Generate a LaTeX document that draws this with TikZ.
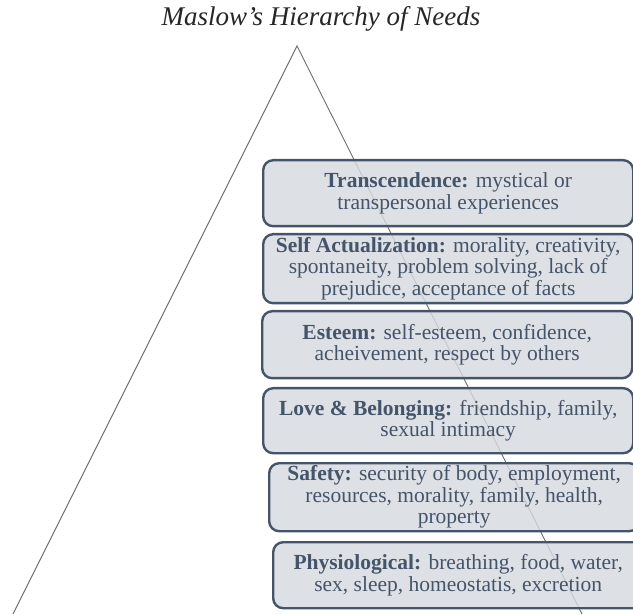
\documentclass[tikz,border=0pt]{standalone}
\usepackage{fontspec}
\setmainfont{Liberation Serif}
\usetikzlibrary{positioning}
\definecolor{slate}{HTML}{44546A}
\definecolor{boxfill}{HTML}{D6D9DE}
\definecolor{edgegray}{HTML}{6E6E6E}
\tikzset{
  need/.style={draw=slate, line width=2.4pt, rounded corners=10pt,
    fill=boxfill, fill opacity=0.82, text opacity=1, text=slate,
    minimum width=370pt, minimum height=66pt, align=center,
    anchor=north west, inner sep=1pt,
    font=\fontsize{21.5}{21.5}\selectfont},
  side/.style={draw=edgegray, line width=0.9pt},
  heading/.style={font=\fontsize{27}{30}\selectfont\itshape, text=black!85}
}
\begin{document}
\begin{tikzpicture}[x=1pt,y=-1pt]
\useasboundingbox (0,0) rectangle (633,615);
% title
\node[heading] (title) at (321,19) {Maslow’s Hierarchy of Needs};
% pyramid outline
\coordinate (apex) at (297,46);
\coordinate (baseL) at (13,614);
\coordinate (baseR) at (582,614);
\draw[side] (baseL) -- (apex) -- (baseR);
% levels of needs
\node[need] (trans) at (262,159)
  {\textbf{Transcendence:} mystical or\\transpersonal experiences};
\node[need, minimum height=69pt] (self) at (262,233)
  {\textbf{Self Actualization:} morality, creativity,\\spontaneity, problem solving, lack of\\prejudice, acceptance of facts};
\node[need, minimum height=67pt] (esteem) at (261,310)
  {\textbf{Esteem:} self-esteem, confidence,\\acheivement, respect by others};
\node[need, minimum height=65pt] (love) at (262,387)
  {\textbf{Love \& Belonging:} friendship, family,\\sexual intimacy};
\node[need, minimum height=68pt] (safety) at (268,462)
  {\textbf{Safety:} security of body, employment,\\resources, morality, family, health,\\property};
\node[need, minimum height=66pt] (phys) at (272,541)
  {\textbf{Physiological:} breathing, food, water,\\sex, sleep, homeostatis, excretion};
\end{tikzpicture}
\end{document}
